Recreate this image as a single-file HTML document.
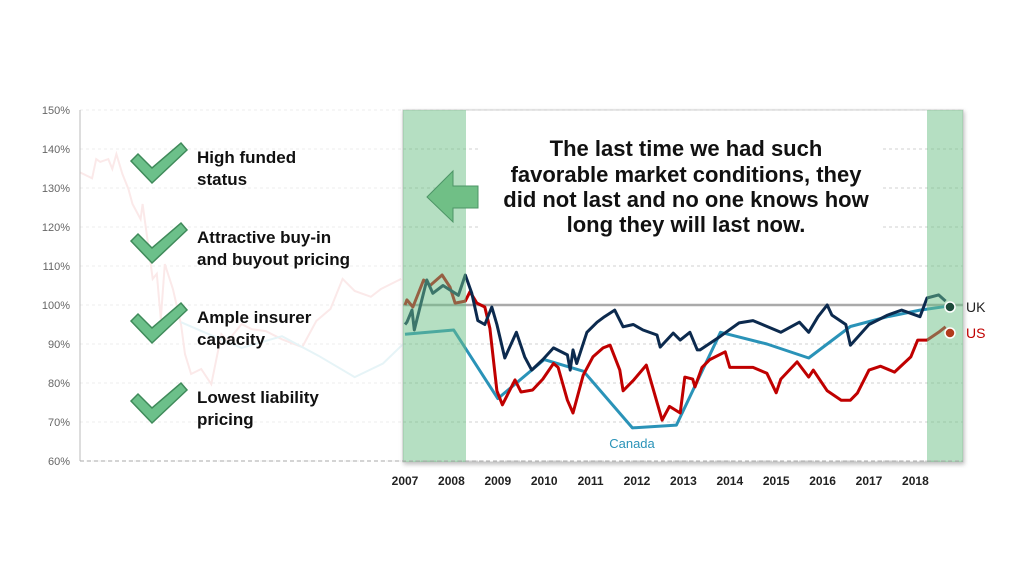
<!DOCTYPE html>
<html><head><meta charset="utf-8"><style>
body{margin:0;background:#fff;width:1024px;height:576px;overflow:hidden;font-family:"Liberation Sans",sans-serif}
</style></head><body>
<svg width="1024" height="576" viewBox="0 0 1024 576" style="position:absolute;left:0;top:0;font-family:'Liberation Sans',sans-serif">
<defs><filter id="sh" x="-5%" y="-5%" width="110%" height="110%"><feDropShadow dx="1" dy="2" stdDeviation="2" flood-color="#000" flood-opacity="0.25"/></filter></defs>
<g id="grid"></g>
<g id="ghost"></g>
<rect x="403" y="110" width="560" height="352" fill="#fff" stroke="#c8c8c8" filter="url(#sh)"/>
<g id="grid2"></g>
<rect x="478" y="112" width="402" height="150" fill="#fff"/>
<g id="series"></g>
<rect x="403" y="110" width="63" height="352" fill="#6bbf85" fill-opacity="0.5"/>
<rect x="927" y="110" width="36" height="352" fill="#6bbf85" fill-opacity="0.5"/>
<g id="axes"></g>
<polygon points="427,197 453,171 453,186 478,186 478,208 453,208 453,222" fill="#70bf86" stroke="#4d9466" stroke-width="1"/>
<g font-weight="bold" font-size="22" text-anchor="middle" fill="#111">
<text x="686" y="156">The last time we had such</text>
<text x="686" y="182">favorable market conditions, they</text>
<text x="686" y="207">did not last and no one knows how</text>
<text x="686" y="232">long they will last now.</text>
</g>
<g id="checks"></g>
</svg>
<script>
const years=[2007,2008,2009,2010,2011,2012,2013,2014,2015,2016,2017,2018];
const yTicks=[60,70,80,90,100,110,120,130,140,150];
const ukT=[2007.0,2007.04,2007.15,2007.2,2007.47,2007.6,2007.82,2008.15,2008.3,2008.44,2008.57,2008.72,2008.87,2008.98,2009.15,2009.4,2009.58,2009.73,2009.97,2010.2,2010.5,2010.56,2010.62,2010.7,2010.92,2011.14,2011.3,2011.52,2011.7,2011.92,2012.13,2012.43,2012.5,2012.78,2012.93,2013.14,2013.3,2013.36,2013.8,2014.2,2014.5,2015.1,2015.5,2015.7,2015.9,2016.1,2016.2,2016.5,2016.6,2017.0,2017.4,2017.7,2018.1,2018.25,2018.5,2018.65];
const ukV=[95,95.6,98.7,93.6,106.4,103,105,102.5,107.7,103,96,95,99.5,95,86.4,93,86.7,83.3,86,89,87.2,83.3,88.5,85,93,95.6,97,98.7,94.4,95,93.6,92.3,89.2,92.8,91,93,88.5,88.5,92,95.4,96,93,95.6,93,97,100,97.4,95,89.7,95,97.4,98.7,97,101.8,102.6,101];
const usT=[2007.0,2007.04,2007.17,2007.4,2007.54,2007.8,2007.97,2008.08,2008.3,2008.4,2008.55,2008.72,2008.83,2008.98,2009.1,2009.37,2009.5,2009.75,2009.97,2010.2,2010.3,2010.5,2010.62,2010.84,2011.05,2011.27,2011.42,2011.63,2011.7,2011.93,2012.2,2012.54,2012.7,2012.93,2013.03,2013.2,2013.25,2013.4,2013.57,2013.9,2014.0,2014.5,2014.8,2015.0,2015.1,2015.45,2015.7,2015.8,2016.1,2016.4,2016.6,2016.75,2017.0,2017.25,2017.55,2017.9,2018.05,2018.25,2018.5,2018.65];
const usV=[100,101.3,99.5,106.4,105,107.7,104.6,100.5,101,103.4,100.5,99.5,94,78,74.4,80.8,77.7,78.2,81,85,84,75.6,72.3,82,86.7,89,89.7,83.3,78,80.8,84.6,70.5,74,72.3,81.5,81,79,84,86,88,84,84,82.5,77.5,81,85.4,81.5,83.3,78,75.6,75.6,77.4,83.3,84.3,82.8,86.7,91,91,93,94.4];
const caT=[2007.0,2008.05,2009.0,2010.0,2010.85,2011.9,2012.85,2013.8,2014.8,2015.7,2016.6,2017.4,2018.1,2018.7];
const caV=[92.5,93.6,76,86,83,68.5,69.2,93,90,86.4,94.5,97,98.7,99.7];
const ghostRedT=[1999.0,1999.3,1999.4,1999.5,1999.7,1999.8,1999.9,2000.05,2000.2,2000.3,2000.5,2000.55,2000.7,2000.8,2000.9,2001.0,2001.1,2001.3,2001.5,2001.6,2001.75,2002.0,2002.25,2002.5,2002.65,2003.0,2003.25,2003.6,2004.0,2004.5,2004.85,2005.2,2005.5,2005.8,2006.2,2006.45,2006.95];
const ghostRedV=[134,132.5,137.4,136.7,137.4,134.9,138.7,133.6,129.7,125.9,122,125.9,114.4,106.7,108,96.4,110.5,104.1,95.1,87.4,82.3,83.6,79.7,92.5,90.7,95.1,93.8,93.3,91.2,89.2,95.9,99,106.7,103.6,102.1,104.1,106.7];
const ghostCaT=[2001.5,2002.3,2003.0,2004.0,2004.9,2005.8,2006.5,2007.0];
const ghostCaV=[95.6,92,89,92,87,81.5,85,90];
const ns="http://www.w3.org/2000/svg";
const X=t=>405+(t-2007)*46.4;
const GX=t=>80+(t-1999)*40.4;
const Y=v=>461-(v-60)*3.9;
function mk(tag,attrs,parent){const e=document.createElementNS(ns,tag);for(const k in attrs)e.setAttribute(k,attrs[k]);parent.appendChild(e);return e;}
const grid=document.getElementById('grid'),grid2=document.getElementById('grid2'),axes=document.getElementById('axes'),series=document.getElementById('series'),ghost=document.getElementById('ghost'),checks=document.getElementById('checks');
yTicks.forEach(v=>{
 const g=mk('line',{x1:80,x2:403,y1:Y(v),y2:Y(v),stroke:'#ececec','stroke-dasharray':'3,3'},grid);
 
 
 const g2=mk('line',{x1:403,x2:963,y1:Y(v),y2:Y(v),stroke:'#d0d0d0','stroke-dasharray':'3,3'},grid2);
 
 
 const t=mk('text',{x:70,y:Y(v)+4,'text-anchor':'end','font-size':11,fill:'#666'},axes);
 t.textContent=v+'%';
 
 
});
const al=mk('line',{x1:80,x2:80,y1:110,y2:461,stroke:'#bbb'},axes);


const bl=mk('line',{x1:80,x2:963,y1:461,y2:461,stroke:'#aaa','stroke-dasharray':'4,3'},axes);


const ref=mk('line',{x1:403,x2:963,y1:Y(100),y2:Y(100),stroke:'#aaa','stroke-width':2.5},series);


years.forEach(y=>{
 const t=mk('text',{x:X(y),y:485,'text-anchor':'middle','font-size':12,'font-weight':'bold',fill:'#222'},axes);
 t.textContent=y;
 
 
});
function path(ts,vs,xf){return ts.map((t,i)=>(i?'L':'M')+xf(t).toFixed(1)+','+Y(vs[i]).toFixed(1)).join(' ');}
const gr=mk('path',{d:path(ghostRedT,ghostRedV,GX),fill:'none',stroke:'#fbe9e9','stroke-width':2},ghost);


const gc=mk('path',{d:path(ghostCaT,ghostCaV,GX),fill:'none',stroke:'#e6f4f7','stroke-width':2},ghost);


const ca=mk('path',{d:path(caT,caV,X),fill:'none',stroke:'#2a93b8','stroke-width':3,'stroke-linejoin':'round'},series);


const us=mk('path',{d:path(usT,usV,X),fill:'none',stroke:'#c00000','stroke-width':3,'stroke-linejoin':'round'},series);


const uk=mk('path',{d:path(ukT,ukV,X),fill:'none',stroke:'#0c2a4e','stroke-width':3,'stroke-linejoin':'round'},series);


const d1=mk('circle',{cx:950,cy:307,r:5,fill:'#1d4a3a',stroke:'#fff','stroke-width':1.5},axes);


const d2=mk('circle',{cx:950,cy:333,r:5,fill:'#b23a1c',stroke:'#fff','stroke-width':1.5},axes);


const l1=mk('text',{x:966,y:312,'font-size':14,fill:'#222'},axes);l1.textContent='UK';


const l2=mk('text',{x:966,y:338,'font-size':14,fill:'#c00000'},axes);l2.textContent='US';


const l3=mk('text',{x:632,y:448,'font-size':13,fill:'#2a93b8','text-anchor':'middle'},series);l3.textContent='Canada';


const items=[["High funded","status"],["Attractive buy-in","and buyout pricing"],["Ample insurer","capacity"],["Lowest liability","pricing"]];
items.forEach((it,i)=>{
 const oy=i*80;
 const p=mk('polygon',{points:`131,${161+oy} 138,${154+oy} 152,${168+oy} 181,${143+oy} 187,${150+oy} 152,${183+oy}`,fill:'#6cc08a',stroke:'#3f8a5a','stroke-width':1.5},checks);
 
 
 const t=mk('text',{x:197,y:163+oy,'font-size':17,'font-weight':'bold',fill:'#111'},checks);
 
 
 const s1=mk('tspan',{x:197,y:163+oy},t);s1.textContent=it[0];
 const s2=mk('tspan',{x:197,y:185+oy},t);s2.textContent=it[1];
});
</script>
</body></html>
